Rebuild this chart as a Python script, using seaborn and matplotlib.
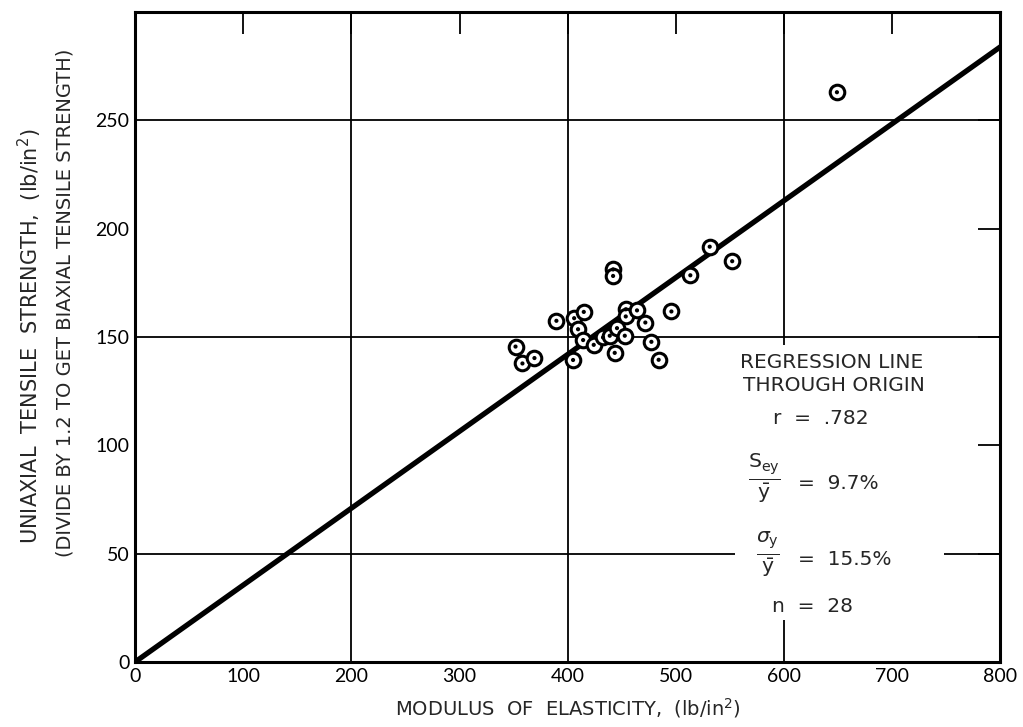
import numpy as np
import pandas as pd
import matplotlib
matplotlib.use('Agg')
import matplotlib.pyplot as plt
import seaborn as sns
from matplotlib.patches import Rectangle

# datos
modulo = [389.5, 405.9, 414.8, 409.5, 414.2, 351.7, 358.1, 369.2, 404.9, 424.0,
          443.4, 432.6, 438.8, 445.5, 452.7, 453.6, 453.6, 464.0, 471.7, 495.8,
          477.3, 484.0, 441.9, 441.9, 531.2, 552.0, 513.3, 648.8]
resistencia = [157.5, 158.7, 161.6, 153.6, 148.6, 145.6, 137.8, 140.3, 139.4, 146.4,
               142.7, 149.8, 150.6, 154.1, 150.6, 162.8, 159.5, 162.3, 156.7, 161.8,
               147.8, 139.5, 181.2, 178.2, 191.7, 185.0, 178.5, 263.0]
pendiente = 0.355
x_ticks = [0, 100, 200, 300, 400, 500, 600, 700, 800]
y_ticks = [0, 50, 100, 150, 200, 250]
x_grid = [200, 400, 600]
y_grid = [50, 150, 250]

datos = pd.DataFrame({'E': modulo, 'S': resistencia})
recta = pd.DataFrame({'E': [0, 800], 'S': [0, pendiente * 800]})

sns.set_style('white')
plt.rcParams['font.family'] = ['DejaVu Sans']
plt.rcParams['mathtext.fontset'] = 'dejavusans'

fig = plt.figure(figsize=(10.23, 7.27), dpi=100)
ax = fig.add_axes([0.132, 0.0894, 0.846, 0.894])

for g in x_grid:
    ax.axvline(g, color='black', lw=1.3, zorder=1)
for g in y_grid:
    ax.axhline(g, color='black', lw=1.3, zorder=1)

# caja blanca detras del texto
ax.add_patch(Rectangle((0.693, 0.065), 0.242, 0.423, transform=ax.transAxes,
                       facecolor='white', edgecolor='none', zorder=2))

sns.lineplot(data=recta, x='E', y='S', color='black', lw=3.8, ax=ax, zorder=3)
sns.scatterplot(data=datos, x='E', y='S', marker='o', s=110, facecolor='white',
                edgecolor='black', linewidth=2.2, ax=ax, zorder=4)
sns.scatterplot(data=datos, x='E', y='S', marker='o', s=9, color='black',
                edgecolor='none', ax=ax, zorder=5)

ax.set_xlim(0, 800)
ax.set_ylim(0, 300)
ax.set_xticks(x_ticks)
ax.set_yticks(y_ticks)
ax.tick_params(direction='in', length=16, width=1.3, top=True, right=True,
               labelsize=14, pad=4, colors='black')
for lab in ax.get_xticklabels() + ax.get_yticklabels():
    lab.set_family(['Lato', 'DejaVu Sans'])
for s in ax.spines.values():
    s.set_linewidth(2.2)
    s.set_color('black')
ax.set_xlabel('')
ax.set_ylabel('')

fig.text(0.555, 0.026, 'MODULUS  OF  ELASTICITY,  (lb/in$^2$)', ha='center', va='center', fontsize=14)
fig.text(0.029, 0.537, 'UNIAXIAL  TENSILE  STRENGTH,  (lb/in$^2$)', rotation=90,
         ha='center', va='center', fontsize=15)
fig.text(0.064, 0.583, '(DIVIDE BY 1.2 TO GET BIAXIAL TENSILE STRENGTH)', rotation=90,
         ha='center', va='center', fontsize=14)

t = dict(transform=ax.transAxes, fontsize=14.5, zorder=6, va='center')
ax.text(0.699, 0.4615, 'REGRESSION LINE', ha='left', **t)
ax.text(0.702, 0.426, 'THROUGH ORIGIN', ha='left', **t)
ax.text(0.737, 0.375, 'r  =  .782', ha='left', **t)
ax.text(0.727, 0.283, r'$\frac{\mathrm{S}_{\mathrm{ey}}}{\bar{\mathrm{y}}}$', ha='center',
        transform=ax.transAxes, fontsize=21, zorder=6, va='center')
ax.text(0.766, 0.275, '=  9.7%', ha='left', **t)
ax.text(0.731, 0.166, r'$\frac{\sigma_{\mathrm{y}}}{\bar{\mathrm{y}}}$', ha='center',
        transform=ax.transAxes, fontsize=21, zorder=6, va='center')
ax.text(0.766, 0.157, '=  15.5%', ha='left', **t)
ax.text(0.736, 0.085, 'n  =  28', ha='left', **t)

fig.savefig('out.png', dpi=100)
